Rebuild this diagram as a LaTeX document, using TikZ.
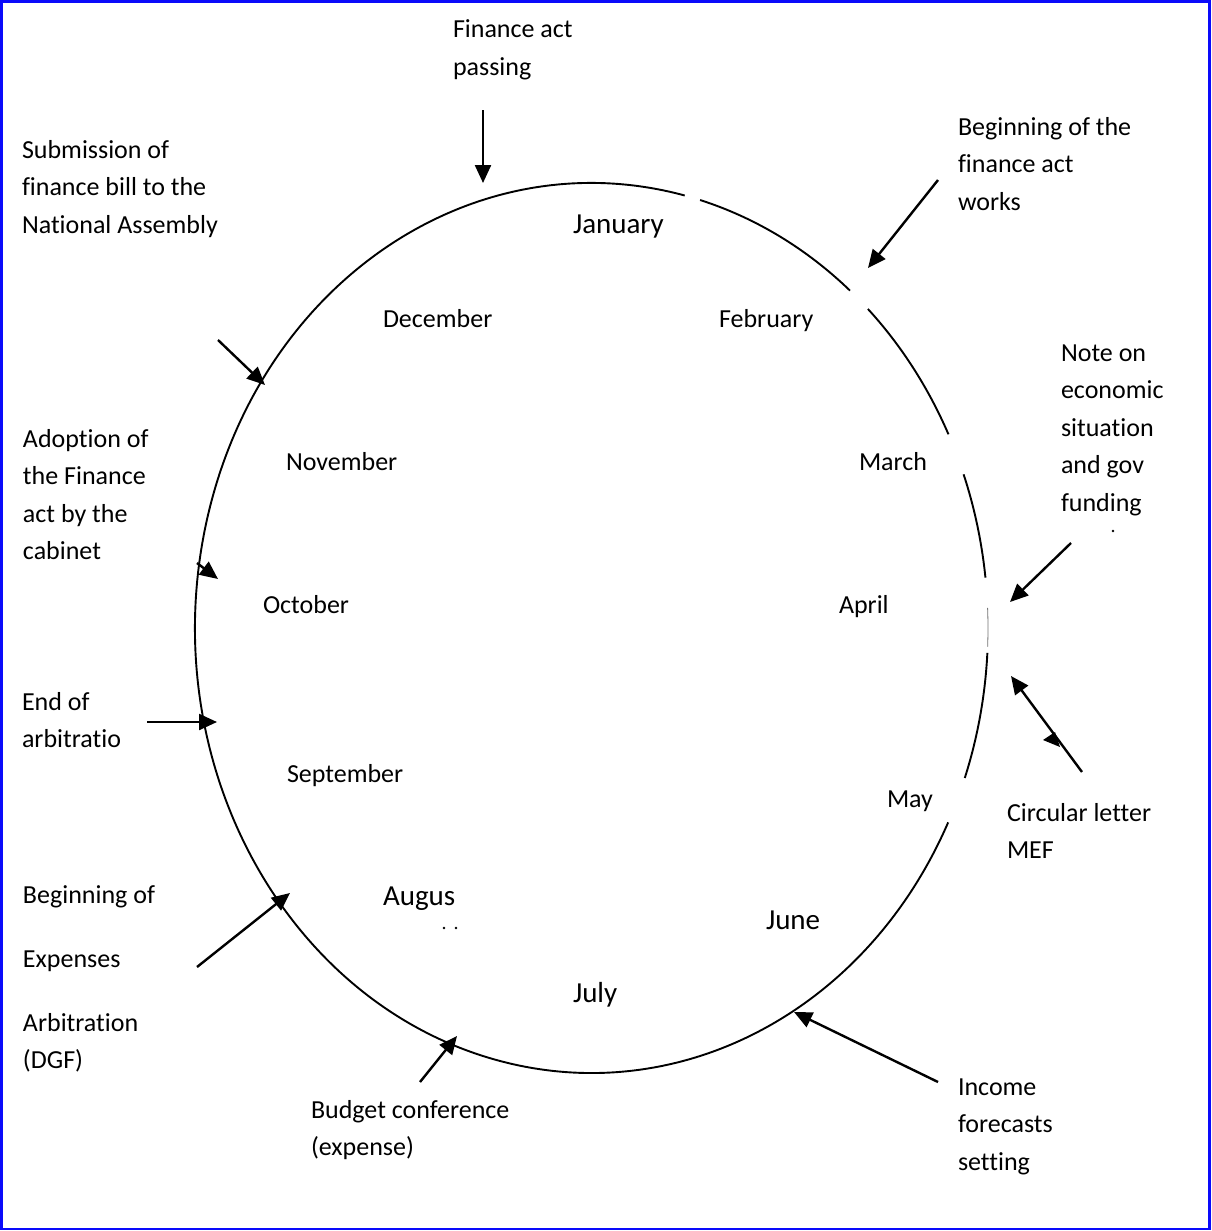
\documentclass[tikz,border=0pt]{standalone}
\usepackage{fontspec}
\setmainfont{Carlito}[Ligatures={NoCommon}]
\usetikzlibrary{arrows.meta}
\tikzset{
  lbl/.style={anchor=north west, inner sep=0pt, outer sep=0pt, align=left, yshift=26.25pt, font=\fontsize{26}{37.5}\selectfont},
  bigmon/.style={lbl, font=\fontsize{29}{37.5}\selectfont},
  arr/.style={line width=2.4pt, -{Triangle[length=18pt,width=16pt]}},
  ring/.style={line width=1.9pt},
  faint/.style={line width=0.8pt, black!55},
  speck/.style={fill=black, draw=none},
}
\begin{document}
\begin{tikzpicture}[x=1pt, y=-1pt]
\useasboundingbox (0,0) rectangle (1212,1231);
\fill[white] (0,0) rectangle (1212,1231);
\draw[line width=2.4pt, color={rgb,255:red,10;green,10;blue,250}] (1.5,1.5) rectangle (1209.5,1229);

% ring (calendar ellipse) with gaps
\coordinate (C) at (591.5,628);
\draw[ring] (C) ++(76.4:396.5pt and 445pt) arc[start angle=76.4, end angle=334.1, x radius=396.5pt, y radius=445pt];
\draw[ring] (C) ++(-19.7:396.5pt and 445pt) arc[start angle=-19.7, end angle=-3.2, x radius=396.5pt, y radius=445pt];
\draw[faint] (C) ++(-2.4:396.5pt and 445pt) arc[start angle=-2.4, end angle=2.6, x radius=396.5pt, y radius=445pt];
\draw[ring] (C) ++(6.5:396.5pt and 445pt) arc[start angle=6.5, end angle=20.2, x radius=396.5pt, y radius=445pt];
\draw[ring] (C) ++(25.8:396.5pt and 445pt) arc[start angle=25.8, end angle=45.8, x radius=396.5pt, y radius=445pt];
\draw[ring] (C) ++(49.3:396.5pt and 445pt) arc[start angle=49.3, end angle=74.1, x radius=396.5pt, y radius=445pt];

% months
\node[bigmon] (jan) at (573,233) {\strut January};
\node[lbl] (feb) at (719,327) {\strut February};
\node[lbl] (mar) at (859,470) {\strut March};
\node[lbl] (apr) at (839,613) {\strut April};
\node[lbl] (may) at (887,807) {\strut May};
\node[bigmon] (jun) at (766,929) {\strut June};
\node[bigmon] (jul) at (573,1002) {\strut July};
\node[bigmon] (aug) at (383,905) {\strut Augus};
\node[lbl] (sep) at (287,782) {\strut September};
\node[lbl] (oct) at (263,613) {\strut October};
\node[lbl] (nov) at (286,470) {\strut November};
\node[lbl] (dec) at (383,327) {\strut December};

% text remnants
\fill[speck] (444,928) circle (1.3pt);
\fill[speck] (456,928) circle (1.3pt);
\fill[speck] (1113,531) circle (1.3pt);

% event labels
\node[lbl] (finact) at (453,38) {\strut Finance act\\passing};
\node[lbl] (begworks) at (958,135) {\strut Beginning of the\\finance act\\works};
\node[lbl] (submission) at (22,158) {\strut Submission of\\finance bill to the\\National Assembly};
\node[lbl] (note) at (1061,361) {\strut Note on\\economic\\situation\\and gov\\funding};
\node[lbl] (adoption) at (23,447) {\strut Adoption of\\the Finance\\act by the\\cabinet};
\node[lbl] (endarb) at (22,710) {\strut End of\\arbitratio};
\node[lbl] (circ) at (1007,821) {\strut Circular letter\\MEF};
\node[lbl] (begexp) at (23,903) {\strut Beginning of\\[26.5pt]Expenses\\[26.5pt]Arbitration\\(DGF)};
\node[lbl] (income) at (958,1095) {\strut Income\\forecasts\\setting};
\node[lbl] (budget) at (311,1118) {\strut Budget conference\\(expense)};

% connector end points
\coordinate (finA) at (483,110);   \coordinate (finB) at (483,183);
\coordinate (worA) at (938,180);   \coordinate (worB) at (868,268);
\coordinate (subA) at (218,340);   \coordinate (subB) at (265,385);
\coordinate (notA) at (1071,543);  \coordinate (notB) at (1010,602);
\coordinate (cirA) at (1082,772);  \coordinate (cirB) at (1011,676);
\coordinate (adoA) at (197,563);   \coordinate (adoB) at (218,579);
\coordinate (endA) at (147,722);   \coordinate (endB) at (217,722);
\coordinate (expA) at (197,967);   \coordinate (expB) at (290,893);
\coordinate (budA) at (420,1082);  \coordinate (budB) at (457,1036);
\coordinate (incA) at (938,1082);  \coordinate (incB) at (794,1012);

\draw[arr] (finA) -- (finB);
\draw[arr] (worA) -- (worB);
\draw[arr] (subA) -- (subB);
\draw[arr] (notA) -- (notB);
\draw[arr] (cirA) -- (cirB);
\draw[arr] (adoA) -- (adoB);
\draw[arr] (endA) -- (endB);
\draw[arr] (expA) -- (expB);
\draw[arr] (budA) -- (budB);
\draw[arr] (incA) -- (incB);
\fill (1043,740) -- (1055,732) -- (1060,747) -- cycle;
\end{tikzpicture}
\end{document}
